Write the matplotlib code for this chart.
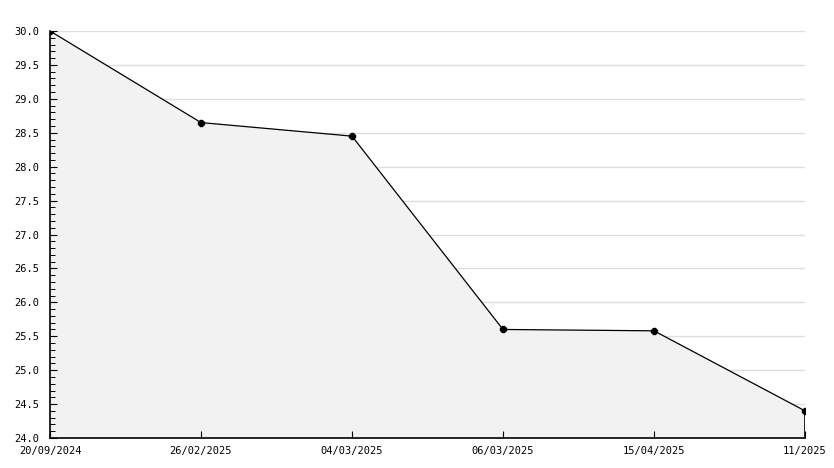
import numpy as np
import matplotlib.pyplot as plt
from matplotlib.ticker import MultipleLocator

dates = ["20/09/2024", "26/02/2025", "04/03/2025", "06/03/2025", "15/04/2025", "11/2025"]
values = [30.0, 28.65, 28.45, 25.6, 25.58, 24.4]

plt.rcParams['font.family'] = ['DejaVu Sans Mono']

fig = plt.figure(figsize=(8.34, 4.68), dpi=100)
ax = fig.add_axes([50/834, 30/468, 755/834, 407/468])

x = np.arange(len(values))
grid_y = np.arange(24.5, 30.01, 0.5)
ax.hlines(grid_y, 0, len(values) - 1, color="#dddddd", lw=1, zorder=0.5)
ax.fill_between(x, values, 24.0, facecolor="#f2f2f2", edgecolor="none", zorder=1)
ax.plot(x, values, color="black", lw=0.9, marker="8", markersize=4, zorder=3)
ax.plot([x[-1], x[-1]], [24.0, values[-1]], color="black", lw=1.2, zorder=3)

ax.set_xlim(0, len(values) - 1)
ax.set_ylim(24.0, 30.0)
ax.set_xticks(x)
ax.set_xticklabels(dates, fontsize=7.5)
ax.yaxis.set_major_locator(MultipleLocator(0.5))
ax.yaxis.set_minor_locator(MultipleLocator(0.1))
ax.set_yticklabels([f"{v:.1f}" for v in ax.get_yticks()], fontsize=7.5)
ax.set_ylim(24.0, 30.0)

ax.tick_params(axis="y", which="major", direction="in", length=5, width=0.8, pad=8)
ax.tick_params(axis="y", which="minor", direction="in", length=3.5, width=0.7)
ax.tick_params(axis="x", direction="in", length=5, width=0.8, pad=6)

ax.set_axisbelow(False)
for s in ("top", "right"):
    ax.spines[s].set_visible(False)
for s in ("left", "bottom"):
    ax.spines[s].set_linewidth(1.2)
    ax.spines[s].set_zorder(4)

fig.savefig("out.png", dpi=100)
